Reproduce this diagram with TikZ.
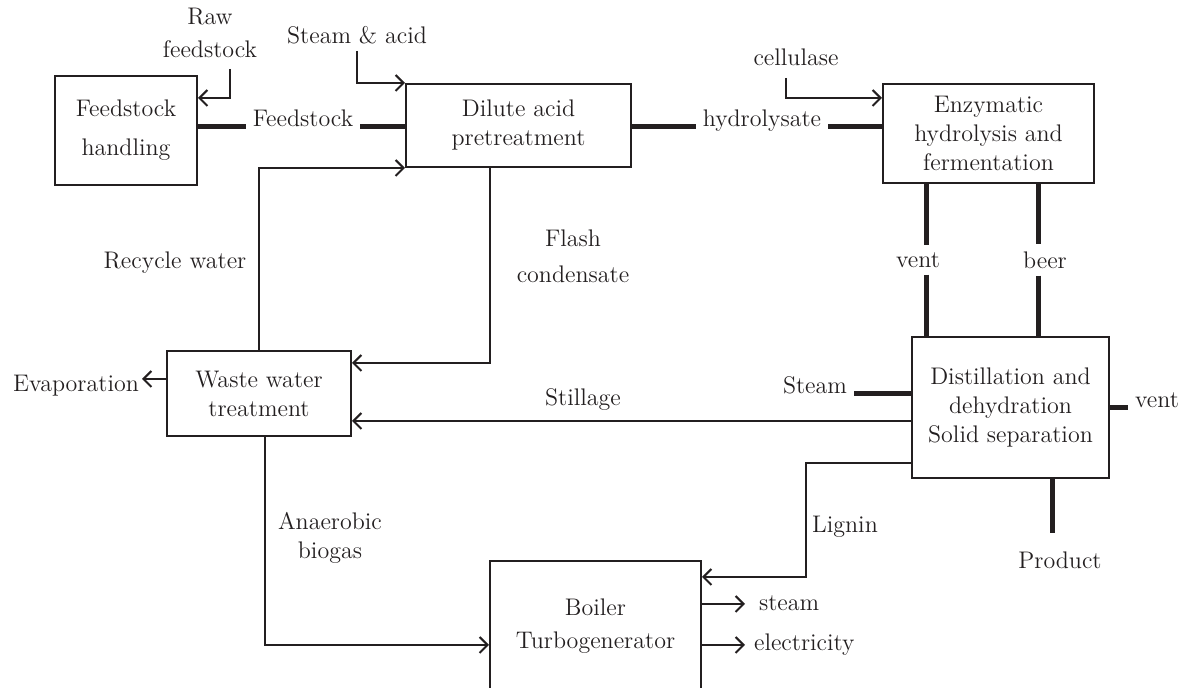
\documentclass[tikz,border=0pt]{standalone}
\usetikzlibrary{arrows.meta}
\definecolor{ink}{RGB}{35,31,32}
\begin{document}
\begin{tikzpicture}[x=0.5pt,y=-0.5pt,
    every node/.style={text=ink},
    unit/.style={draw=ink,line width=1pt,align=center,inner sep=0pt,font=\fontsize{12}{14.5}\selectfont},
    lbl/.style={align=center,font=\fontsize{12}{14.5}\selectfont},
    arr/.style={draw=ink,line width=1pt,-{Straight Barb[length=4pt,width=8pt,line width=1pt]}},
    thk/.style={draw=ink,line width=2.5pt}]
    \useasboundingbox (0,0) rectangle (1196,688);
    \clip (0,0) rectangle (1196,688);

    % process units
    \node[unit,minimum width=71pt,minimum height=54.5pt] (fh) at (126,130.5) {Feedstock\\[5pt]handling};
    \node[unit,minimum width=112.5pt,minimum height=41.5pt] (dap) at (518.5,125.5) {Dilute acid\\pretreatment};
    \node[unit,minimum width=105.5pt,minimum height=49.5pt] (ehf) at (988.5,133.5) {Enzymatic\\hydrolysis and\\fermentation};
    \node[unit,minimum width=92pt,minimum height=42.5pt] (wwt) at (259,393.5) {Waste water\\treatment};
    \node[unit,minimum width=98.5pt,minimum height=70.5pt] (dds) at (1010.5,407.5) {Distillation and\\dehydration\\Solid separation};
    \node[unit,minimum width=105.5pt,minimum height=65pt] (btg) at (595.5,626) {Boiler\\[2pt]Turbogenerator};

    % stream labels
    \node[lbl] (rawlbl) at (210,33) {Raw\\[2pt]feedstock};
    \node[lbl] (salbl) at (357,35) {Steam \& acid};
    \node[lbl,anchor=base] (fslbl) at (303,127) {Feedstock};
    \node[lbl,anchor=base] (hylbl) at (762,127) {hydrolysate};
    \node[lbl] (cellbl) at (796,57) {cellulase};
    \node[lbl] (ventlbl) at (918,260) {vent};
    \node[lbl] (beerlbl) at (1045,260) {beer};
    \node[lbl] (rwlbl) at (175,263) {Recycle water};
    \node[lbl] (fclbl) at (573,256) {Flash\\[3.5pt]condensate};
    \node[lbl] (evlbl) at (76,386) {Evaporation};
    \node[lbl] (stlbl) at (583,400) {Stillage};
    \node[lbl,anchor=base] (steamlbl) at (815,394) {Steam};
    \node[lbl,anchor=base] (vent2lbl) at (1157,408) {vent};
    \node[lbl] (liglbl) at (845,527) {Lignin};
    \node[lbl] (prodlbl) at (1060,560) {Product};
    \node[lbl] (biolbl) at (330,538) {Anaerobic\\biogas};
    \node[lbl,anchor=west] (stoutlbl) at (752,603) {steam};
    \node[lbl,anchor=west] (eloutlbl) at (747,645) {electricity};

    % bends and line levels
    \coordinate (rawtop) at (230,69);
    \coordinate (rawin) at (0,98);
    \coordinate (celltop) at (786,78);
    \coordinate (cellin) at (0,98);
    \coordinate (flashx) at (490,363);
    \coordinate (stilly) at (0,421);
    \coordinate (evapend) at (142,379);
    \coordinate (lign1) at (806,463);
    \coordinate (lign2) at (806,577);
    \coordinate (biogas) at (265,645);
    \coordinate (ventx) at (926,0);
    \coordinate (beerx) at (1038,0);
    \coordinate (prodend) at (1052,533);
    \coordinate (steamout) at (745,604);
    \coordinate (elecout) at (745,645);

    % streams
    \draw[arr] (rawtop) |- (fh.east |- rawin);
    \draw[thk] (fh.east |- fslbl.base) -- (fslbl.base west);
    \draw[thk] (fslbl.base east) -- (dap.west |- fslbl.base);
    \draw[arr] (salbl.south) |- (dap.north west);
    \draw[arr] (wwt.north) |- (dap.south west);
    \draw[thk] (dap.east |- hylbl.base) -- (hylbl.base west);
    \draw[thk] (hylbl.base east) -- (ehf.west |- hylbl.base);
    \draw[arr] (celltop) |- (ehf.west |- cellin);
    \draw[thk] (ehf.south -| ventx) -- (ventlbl.north -| ventx);
    \draw[thk] (ventlbl.south -| ventx) -- (dds.north -| ventx);
    \draw[thk] (ehf.south -| beerx) -- (beerlbl.north -| beerx);
    \draw[thk] (beerlbl.south -| beerx) -- (dds.north -| beerx);
    \draw[arr] (dap.south -| flashx) |- (wwt.east |- flashx);
    \draw[arr] (wwt.west |- evapend) -- (evapend);
    \draw[arr] (dds.west |- stilly) -- (wwt.east |- stilly);
    \draw[thk] (steamlbl.base east) -- (dds.west |- steamlbl.base);
    \draw[thk] (dds.east |- vent2lbl.base) -- (vent2lbl.base west);
    \draw[arr] (dds.west |- lign1) -- (lign1) -- (lign2) -- (btg.east |- lign2);
    \draw[thk] (dds.south -| prodend) -- (prodend);
    \draw[arr] (wwt.south -| biogas) |- (btg.west |- biogas);
    \draw[arr] (btg.east |- steamout) -- (steamout);
    \draw[arr] (btg.east |- elecout) -- (elecout);
\end{tikzpicture}
\end{document}
